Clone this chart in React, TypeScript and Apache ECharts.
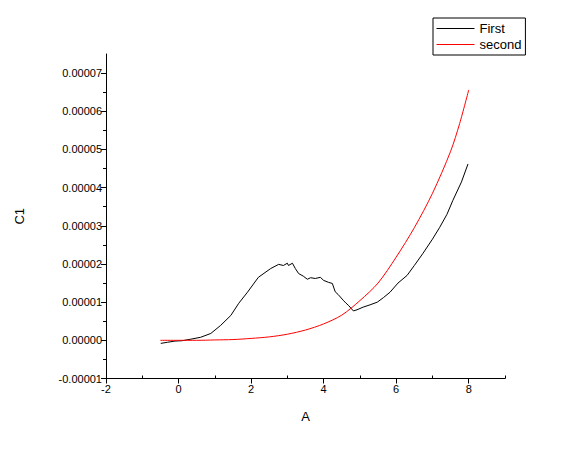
import React, { useEffect, useRef } from 'react';
import * as echarts from 'echarts';

// Series "First" (black)
const firstX = [-0.49, -0.3, -0.1, 0.1, 0.34, 0.61, 0.89, 1.16, 1.44, 1.66, 1.9, 2.2, 2.54, 2.76, 2.89, 3.0, 3.03, 3.14, 3.22, 3.31, 3.44, 3.55, 3.64, 3.77, 3.91, 4.0, 4.13, 4.24, 4.32, 4.4, 4.54, 4.61, 4.68, 4.82, 4.92, 5.09, 5.28, 5.48, 5.65, 5.83, 6.05, 6.3, 6.5, 6.74, 7.0, 7.2, 7.4, 7.56, 7.8, 7.98];
const firstY = [-0.08e-5, -0.05e-5, -0.02e-5, -0.01e-5, 0.03e-5, 0.08e-5, 0.18e-5, 0.39e-5, 0.65e-5, 0.97e-5, 1.26e-5, 1.65e-5, 1.88e-5, 1.99e-5, 1.96e-5, 2.02e-5, 1.96e-5, 2.02e-5, 1.88e-5, 1.75e-5, 1.68e-5, 1.6e-5, 1.64e-5, 1.62e-5, 1.65e-5, 1.57e-5, 1.52e-5, 1.49e-5, 1.27e-5, 1.2e-5, 1.05e-5, 0.98e-5, 0.92e-5, 0.77e-5, 0.8e-5, 0.87e-5, 0.93e-5, 1.0e-5, 1.12e-5, 1.26e-5, 1.5e-5, 1.7e-5, 1.96e-5, 2.28e-5, 2.65e-5, 2.96e-5, 3.3e-5, 3.66e-5, 4.15e-5, 4.62e-5];

// Series "second" (red)
const secondX = [-0.5, 0, 0.5, 1, 1.5, 2, 2.5, 3, 3.5, 4, 4.5, 5, 5.5, 6, 6.5, 7, 7.5, 7.75, 8];
const secondY = [0, 0, 0, 0.01e-5, 0.02e-5, 0.05e-5, 0.09e-5, 0.16e-5, 0.27e-5, 0.43e-5, 0.66e-5, 1.04e-5, 1.5e-5, 2.18e-5, 2.95e-5, 3.85e-5, 4.95e-5, 5.68e-5, 6.56e-5];

const seriesNames = ['First', 'second'];
const seriesColors = ['#000000', '#ff0000'];
const xMajorTicks = [-2, 0, 2, 4, 6, 8];
const xMinorTicks = [-1, 1, 3, 5, 7, 9];
const yMajorTicks = [-1e-5, 0, 1e-5, 2e-5, 3e-5, 4e-5, 5e-5, 6e-5, 7e-5];

const FONT = 'Liberation Sans, Arial, sans-serif';

export default function App() {
  const ref = useRef<HTMLDivElement>(null);
  useEffect(() => {
    if (!ref.current) return;
    const chart = echarts.init(ref.current, null, { renderer: 'svg' });
    const firstData = firstX.map((x, i) => [x, firstY[i]]);
    const secondData = secondX.map((x, i) => [x, secondY[i]]);
    chart.setOption({
      animation: false,
      backgroundColor: '#ffffff',
      grid: { left: 106, right: 83, top: 54, bottom: 76.5 },
      legend: {
        left: 433,
        top: 18,
        orient: 'vertical',
        borderColor: '#000',
        borderWidth: 1,
        borderRadius: 0,
        padding: [4, 4, 4, 3],
        itemGap: 3,
        itemWidth: 38,
        itemHeight: 14,
        itemStyle: { opacity: 0, borderWidth: 0 },
        lineStyle: { width: 1 },
        textStyle: { fontFamily: FONT, fontSize: 13, color: '#000' },
        data: seriesNames,
      },
      xAxis: [
        {
          type: 'value',
          min: -2,
          max: 9,
          interval: 2,
          position: 'bottom',
          name: 'A',
          nameLocation: 'middle',
          nameGap: 31,
          nameTextStyle: { fontFamily: FONT, fontSize: 13, color: '#000' },
          axisLine: { show: true, onZero: false, lineStyle: { color: '#000', width: 1 } },
          axisTick: { show: true, length: 5, customValues: xMajorTicks, lineStyle: { color: '#000' } },
          axisLabel: {
            customValues: xMajorTicks,
            fontFamily: FONT,
            fontSize: 11,
            color: '#000',
            margin: 5,
          },
          splitLine: { show: false },
        },
        {
          type: 'value',
          min: -2,
          max: 9,
          interval: 2,
          position: 'bottom',
          offset: 0,
          axisLine: { show: false, onZero: false },
          axisTick: { show: true, inside: true, length: 3, customValues: xMinorTicks, lineStyle: { color: '#000' } },
          axisLabel: { show: false },
          splitLine: { show: false },
        },
      ],
      yAxis: {
        type: 'value',
        min: -1e-5,
        max: 7.5e-5,
        interval: 1e-5,
        name: 'C1',
        nameLocation: 'middle',
        nameGap: 80,
        nameRotate: 90,
        nameTextStyle: { fontFamily: FONT, fontSize: 13, color: '#000' },
        axisLine: { show: true, onZero: false, lineStyle: { color: '#000', width: 1 } },
        axisTick: { show: true, length: 5, customValues: yMajorTicks, lineStyle: { color: '#000' } },
        minorTick: { show: true, splitNumber: 2, length: 3, lineStyle: { color: '#000' } },
        axisLabel: {
          customValues: yMajorTicks,
          formatter: (v: number) => v.toFixed(5),
          fontFamily: FONT,
          fontSize: 11,
          color: '#000',
          margin: 4,
        },
        splitLine: { show: false },
        minorSplitLine: { show: false },
      },
      series: [
        {
          name: seriesNames[0],
          type: 'line',
          data: firstData,
          showSymbol: false,
          symbol: 'none',
          lineStyle: { color: seriesColors[0], width: 1 },
          itemStyle: { color: seriesColors[0] },
          xAxisIndex: 0,
        },
        {
          name: seriesNames[1],
          type: 'line',
          data: secondData,
          showSymbol: false,
          symbol: 'none',
          smooth: 0.3,
          lineStyle: { color: seriesColors[1], width: 1 },
          itemStyle: { color: seriesColors[1] },
          xAxisIndex: 0,
        },
      ],
    });
    return () => chart.dispose();
  }, []);
  return (
    <div
      ref={ref}
      style={{ position: 'fixed', left: 0, top: 0, width: 588, height: 455, background: '#fff' }}
    />
  );
}
